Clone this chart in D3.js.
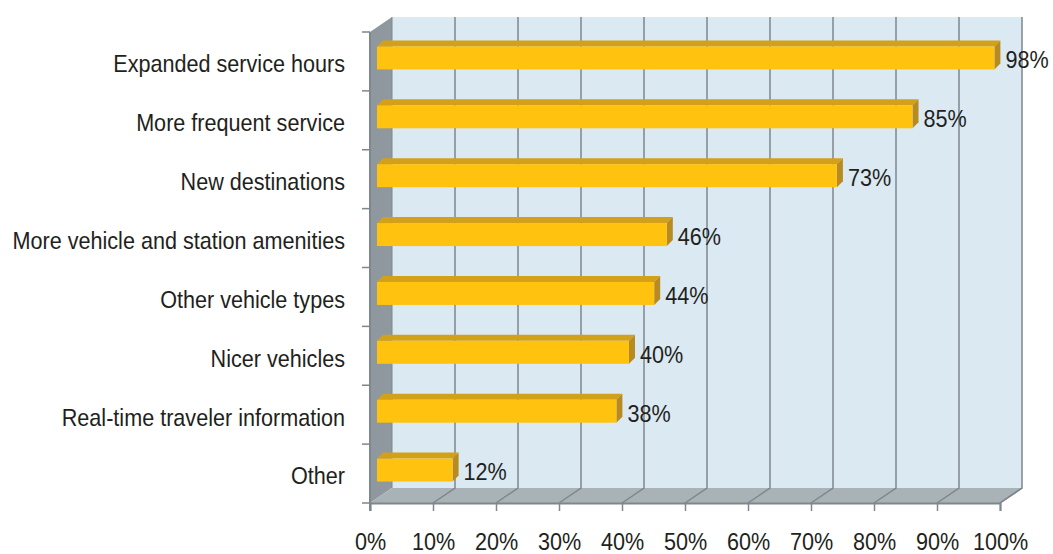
<!DOCTYPE html>
<html>
<head>
  <meta charset="utf-8">
  <script src="https://d3js.org/d3.v7.min.js"></script>
  <style>
  body { margin: 0; background: #ffffff; }
  * { font-family: "Liberation Sans", Arial, sans-serif; }
  </style>
</head>
<body>
<div id="chart"></div>
<script>
const categories = [
  "Expanded service hours",
  "More frequent service",
  "New destinations",
  "More vehicle and station amenities",
  "Other vehicle types",
  "Nicer vehicles",
  "Real-time traveler information",
  "Other"
];
const values = [0.98, 0.85, 0.73, 0.46, 0.44, 0.40, 0.38, 0.12];
const valueLabels = ["98%", "85%", "73%", "46%", "44%", "40%", "38%", "12%"];
const xTicks = [0, 0.1, 0.2, 0.3, 0.4, 0.5, 0.6, 0.7, 0.8, 0.9, 1.0];

const W = 1053, H = 554;
const pLeft = 370, pRight = 1000, pTop = 32, pBottom = 503;
const dx = 22, dy = -15;          // depth of the 3d box
const bOff = [7, -5];             // bar offset into the box
const bDepth = [6, -6];           // bar thickness
const barH = 23;
const fontSize = 24, squeeze = 0.9;   // text in the original is a bit condensed

const svg = d3.select("#chart").append("svg")
  .attr("width", W).attr("height", H);

const x = d3.scaleLinear().domain([0, 1]).range([pLeft, pRight]);
const y = d3.scaleBand().domain(categories).range([pTop, pBottom]).padding(0);

function label(g, tx, ty, txt, anchor) {
  return g.append("text")
    .attr("transform", `translate(${tx},${ty}) scale(${squeeze},1)`)
    .attr("dy", "0.35em")
    .attr("text-anchor", anchor)
    .attr("font-size", fontSize)
    .attr("fill", "#231f20")
    .text(txt);
}

// back wall
svg.append("rect")
   .attr("x", pLeft + dx).attr("y", pTop + dy)
   .attr("width", pRight - pLeft).attr("height", pBottom - pTop)
   .attr("fill", "#dbe9f3");

// side wall
svg.append("path")
   .attr("d", `M${pLeft},${pTop} L${pLeft+dx},${pTop+dy} L${pLeft+dx},${pBottom+dy} L${pLeft},${pBottom} Z`)
   .attr("fill", "#8f989f");

// floor
svg.append("path")
   .attr("d", `M${pLeft},${pBottom} L${pLeft+dx},${pBottom+dy} L${pRight+dx},${pBottom+dy} L${pRight},${pBottom} Z`)
   .attr("fill", "#a9b2b7");

// grid lines on wall and floor
xTicks.forEach(function(t) {
  if (t === 0) return;
  svg.append("path")
     .attr("d", `M${x(t)+dx},${pTop+dy} L${x(t)+dx},${pBottom+dy} L${x(t)},${pBottom}`)
     .attr("fill", "none")
     .attr("stroke", "#7e878e")
     .attr("stroke-width", 1.5);
});
svg.append("line")
   .attr("x1", pLeft + dx).attr("x2", pLeft + dx)
   .attr("y1", pTop + dy).attr("y2", pBottom + dy)
   .attr("stroke", "#7e878e").attr("stroke-width", 1);

// bars
const bars = svg.append("g");
categories.forEach(function(c, i) {
  const v = values[i];
  const cy = y(c) + y.bandwidth() / 2 - 3.5;
  const x0 = pLeft + bOff[0];
  const x1 = x(v) + bOff[0];
  const y0 = cy - barH / 2, y1 = cy + barH / 2;
  // top face
  bars.append("path")
      .attr("d", `M${x0},${y0} L${x0+bDepth[0]},${y0+bDepth[1]} L${x1+bDepth[0]},${y0+bDepth[1]} L${x1},${y0} Z`)
      .attr("fill", "#d3a019");
  // side face
  bars.append("path")
      .attr("d", `M${x1},${y0} L${x1+bDepth[0]},${y0+bDepth[1]} L${x1+bDepth[0]},${y1+bDepth[1]} L${x1},${y1} Z`)
      .attr("fill", "#b78a22");
  // front face
  bars.append("rect")
      .attr("x", x0).attr("y", y0)
      .attr("width", x1 - x0).attr("height", barH)
      .attr("fill", "#ffc20e");
  // value label
  label(svg, x1 + bDepth[0] + 5, cy + 2, valueLabels[i], "start");
});

// left axis line and ticks at band edges
svg.append("line")
   .attr("x1", pLeft).attr("x2", pLeft)
   .attr("y1", pTop).attr("y2", pBottom + 8)
   .attr("stroke", "#7e878e").attr("stroke-width", 2);
categories.concat([null]).forEach(function(c) {
  const yy = c === null ? pBottom : y(c);
  svg.append("line")
     .attr("x1", pLeft - 8).attr("x2", pLeft)
     .attr("y1", yy).attr("y2", yy)
     .attr("stroke", "#7e878e").attr("stroke-width", 1.5);
});

// category labels
categories.forEach(function(c) {
  label(svg, 345, y(c) + y.bandwidth() / 2 + 2.5, c, "end");
});

// bottom axis
const xAxis = svg.append("g")
   .attr("transform", `translate(0,${pBottom})`)
   .call(d3.axisBottom(x).tickValues(xTicks).tickSize(8).tickPadding(22)
          .tickFormat(d3.format(".0%")));
xAxis.select(".domain").attr("stroke", "#7e878e").attr("stroke-width", 2);
xAxis.selectAll(".tick line").attr("stroke", "#7e878e").attr("stroke-width", 1.5);
xAxis.selectAll("text")
     .attr("font-size", fontSize).attr("fill", "#231f20")
     .attr("transform", `scale(${squeeze},1)`)
     .style("font-family", "'Liberation Sans', Arial, sans-serif");

// right edge of floor
svg.append("line")
   .attr("x1", pRight).attr("y1", pBottom)
   .attr("x2", pRight + dx).attr("y2", pBottom + dy)
   .attr("stroke", "#7e878e").attr("stroke-width", 1.5);
</script>
</body>
</html>
